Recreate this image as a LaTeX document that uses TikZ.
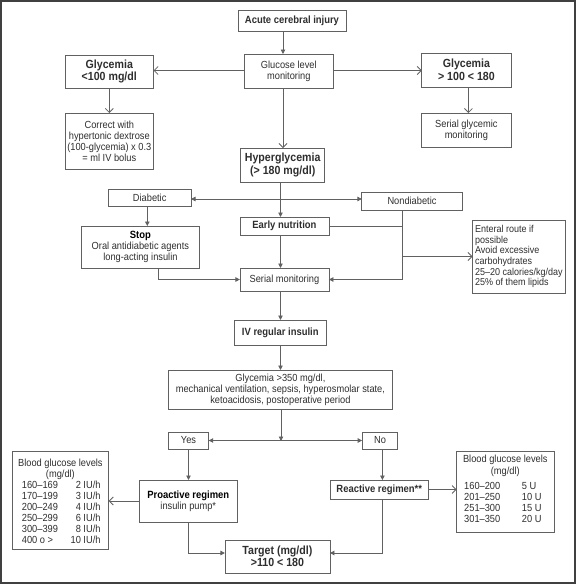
\documentclass[tikz,border=0pt]{standalone}
\usepackage{fontspec}
\setmainfont{Liberation Sans}[FakeStretch=0.9]
\usetikzlibrary{arrows.meta}
\definecolor{linec}{gray}{0.38}
\definecolor{txtc}{gray}{0.18}
\newcommand\rf{\fontsize{10.3}{11}\selectfont}
\newcommand\bsm{\fontsize{10.5}{11}\selectfont\bfseries\color{black}}
\newcommand\blg{\fontsize{11.8}{12.5}\selectfont\bfseries\color{black}}
\tikzset{
  box/.style={draw=linec, line width=0.8pt, inner sep=0pt, outer sep=0pt, align=center, text=txtc, font=\rf},
  conn/.style={draw=linec, line width=0.8pt},
  fa/.style={conn, -{Triangle[length=4.5pt,width=4.5pt]}},
  fab/.style={conn, {Triangle[length=4.5pt,width=4.5pt]}-{Triangle[length=4.5pt,width=4.5pt]}},
  oa/.style={conn, -{Straight Barb[length=4pt,width=8pt]}},
  tt/.style={font=\rf, text=txtc, inner sep=0pt, text height=7.4pt, text depth=0pt},
}
\begin{document}
\begin{tikzpicture}[x=1pt, y=-1pt]
\useasboundingbox (0,0) rectangle (576,584);
\draw[line width=2pt, black!75] (1,1) rectangle (575,583);

% axis coordinates
\coordinate (ax1) at (283,0);
\coordinate (ax2) at (280.5,0);
\coordinate (ax3) at (281,0);
\coordinate (gx) at (468.4,0);
\coordinate (dx) at (147.3,0);
\coordinate (sx) at (158.7,0);
\coordinate (nx) at (402.6,0);
\coordinate (rx) at (382.4,0);
\coordinate (ydn) at (0,199);
\coordinate (yt) at (0,553);
\coordinate (yg) at (0,70.5);

% nodes
\node[box, font=\bsm, minimum width=108pt, minimum height=21pt] (acute) at (292,20.5) {Acute cerebral injury};
\node[box, minimum width=89pt, minimum height=34pt] (glucose) at (288.8,71) {Glucose level\\monitoring};
\node[box, font=\blg, minimum width=88.6pt, minimum height=33pt] (gl100) at (109.3,71.5) {Glycemia\\<100 mg/dl};
\node[box, font=\blg, minimum width=89.3pt, minimum height=34pt] (gl180) at (466.4,70) {Glycemia\\> 100 < 180};
\node[box, minimum width=88.6pt, minimum height=56pt] (correct) at (109.3,141) {Correct with\\hypertonic dextrose\\(100-glycemia) x 0.3\\= ml IV bolus};
\node[box, minimum width=89.3pt, minimum height=34pt] (serialgly) at (466.4,130) {Serial glycemic\\monitoring};
\node[box, font=\blg, minimum width=84.2pt, minimum height=34pt] (hyper) at (282.7,165) {Hyperglycemia\\(> 180 mg/dl)};
\node[box, minimum width=82.6pt, minimum height=17pt] (diabetic) at (149.7,197.5) {Diabetic};
\node[box, minimum width=100.3pt, minimum height=18pt] (nondiab) at (412,201) {Nondiabetic};
\node[box, font=\bsm, minimum width=89pt, minimum height=18pt] (early) at (284.4,226) {Early nutrition};
\node[box, minimum width=117.5pt, minimum height=42pt] (stop) at (140.4,247) {{\bsm Stop}\\Oral antidiabetic agents\\long-acting insulin};
\node[box, minimum width=89pt, minimum height=23pt] (serialmon) at (284.4,279.5) {Serial monitoring};
\node[box, align=left, font=\fontsize{10}{10.7}\selectfont, minimum width=92.5pt, minimum height=73pt] (enteral) at (518.8,256.5) {Enteral route if\\possible\\Avoid excessive\\carbohydrates\\25–20 calories/kg/day\\25\% of them lipids};
\node[box, font=\bsm, minimum width=92.6pt, minimum height=25pt] (iv) at (280.3,332.5) {IV regular insulin};
\node[box, minimum width=224pt, minimum height=39pt] (gly350) at (280.4,389.5) {Glycemia >350 mg/dl,\\mechanical ventilation, sepsis, hyperosmolar state,\\ketoacidosis, postoperative period};
\node[box, minimum width=40.4pt, minimum height=17pt] (yes) at (188.5,440.5) {Yes};
\node[box, minimum width=35.7pt, minimum height=17pt] (no) at (380,440.5) {No};
\node[box, minimum width=97.4pt, minimum height=42pt] (proactive) at (188.3,501) {{\bsm Proactive regimen}\\insulin pump*};
\node[box, font=\bsm, minimum width=98.8pt, minimum height=19pt] (reactive) at (379.3,489.5) {Reactive regimen**};
\node[box, font=\blg, minimum width=105pt, minimum height=33pt] (target) at (277.4,556.5) {Target (mg/dl)\\>110 < 180};

% left table
\node[box, minimum width=96.6pt, minimum height=98pt] (lt) at (60.4,500) {};
\node[tt] (lt0) at (60.4,463) {Blood glucose levels};
\node[tt] (lt1) at (60.4,474) {(mg/dl)};
\foreach \i/\a/\b in {0/{160–169}/{2 IU/h},1/{170–199}/{3 IU/h},2/{200–249}/{4 IU/h},3/{250–299}/{6 IU/h},4/{300–399}/{8 IU/h},5/{400 o >}/{10 IU/h}}{
  \node[tt, anchor=west] (lta\i) at (21.7,485+11*\i) {\a};
  \node[tt, anchor=east] (ltb\i) at (100.7,485+11*\i) {\b};
}
% right table
\node[box, minimum width=97.4pt, minimum height=81pt] (rt) at (505.3,491.5) {};
\node[tt] (rt0) at (505.3,459) {Blood glucose levels};
\node[tt] (rt1) at (505.3,471) {(mg/dl)};
\foreach \i/\a/\b in {0/{160–200}/{5 U},1/{201–250}/{10 U},2/{251–300}/{15 U},3/{301–350}/{20 U}}{
  \node[tt, anchor=west] (rta\i) at (464,486+11*\i) {\a};
  \node[tt, anchor=west] (rtb\i) at (521.7,486+11*\i) {\b};
}

% connectors
\draw[fa] (acute.south -| ax1) -- (glucose.north -| ax1);
\draw[oa] (glucose.west |- yg) -- (gl100.east |- yg);
\draw[oa] (glucose.east |- yg) -- (gl180.west |- yg);
\draw[oa] (gl100.south) -- (correct.north);
\draw[oa] (gl180.south -| gx) -- (serialgly.north -| gx);
\draw[oa] (glucose.south -| ax1) -- (hyper.north -| ax1);
\draw[fa] (hyper.south -| ax2) -- (early.north -| ax2);
\draw[fab] (diabetic.east |- ydn) -- (nondiab.west |- ydn);
\draw[fa] (diabetic.south -| dx) -- (stop.north -| dx);
\draw[fa] (early.south -| ax2) -- (serialmon.north -| ax2);
\draw[fa] (stop.south -| sx) |- (serialmon.west);
\draw[fa] (nondiab.south -| nx) |- (serialmon.east);
\draw[conn] (early.east) -- (early.east -| nx);
\draw[oa] (enteral.west -| nx) -- (enteral.west);
\draw[fa] (serialmon.south -| ax2) -- (iv.north -| ax2);
\draw[fa] (iv.south -| ax2) -- (gly350.north -| ax2);
\coordinate (split) at (281,441);
\draw[fa] (gly350.south -| ax3) -- (split);
\draw[fab] (yes.east) -- (no.west);
\draw[fa] (yes.south) -- (proactive.north -| yes.south);
\draw[fa] (no.south -| rx) -- (reactive.north -| rx);
\draw[oa] (proactive.west) -- (lt.east |- proactive.west);
\draw[oa] (reactive.east) -- (rt.west |- reactive.east);
\draw[fa] (proactive.south) |- (target.west |- yt);
\draw[fa] (reactive.south -| rx) |- (target.east |- yt);
\end{tikzpicture}
\end{document}
